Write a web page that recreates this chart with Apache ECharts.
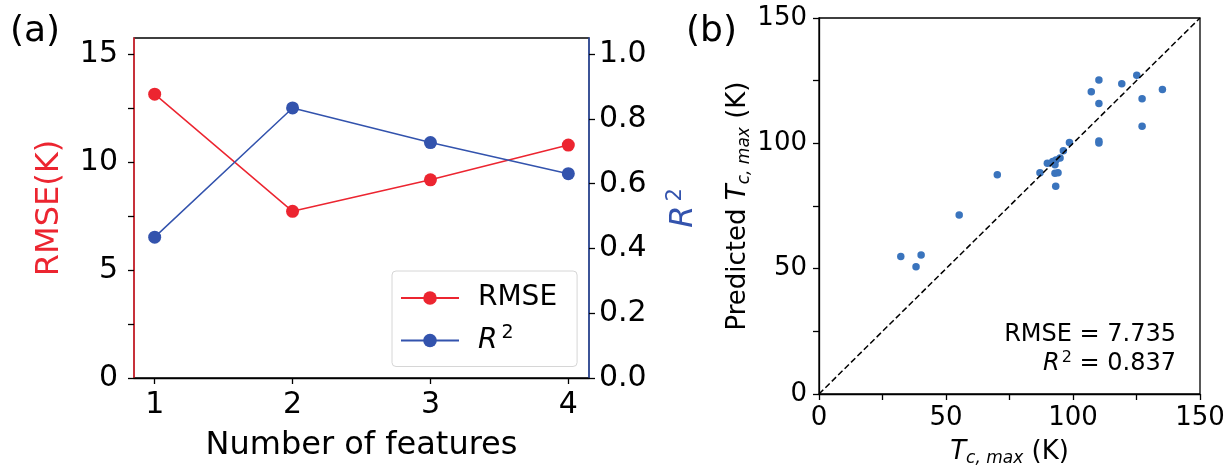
<!DOCTYPE html>
<html>
<head>
<meta charset="utf-8">
<script src="https://cdn.jsdelivr.net/npm/echarts@6/dist/echarts.min.js"></script>
<style>
    html, body { margin: 0; padding: 0; background: #fff; }
    #chart { width: 1232px; height: 472px; }
</style>
</head>
<body>
<div id="chart"></div>
<script>
var features = [1, 2, 3, 4];
var rmseVals = [13.15, 7.72, 9.18, 10.79];
var r2Vals = [0.435, 0.834, 0.727, 0.631];

// panel (b): actual vs predicted Tc,max
var tcTrue = [110.2, 125.1, 119.2, 135.2, 107.2, 127.2, 110.2, 127.2, 110.2, 110.2, 98.6, 96.2,
    89.9, 92.0, 93.3, 94.9, 92.9, 87.0, 92.9, 94.1, 93.2, 70.2, 55.2, 40.2, 32.2, 38.2];
var tcPred = [125.3, 127.2, 123.8, 121.5, 120.6, 117.8, 115.9, 106.8, 100.9, 100.1, 100.3, 97.0,
    92.1, 92.8, 93.4, 94.1, 91.5, 88.3, 88.1, 88.3, 82.9, 87.5, 71.4, 55.5, 54.9, 50.8];

var rmseTicks = [0, 2.5, 5, 7.5, 10, 12.5, 15];
var rmseLabels = [0, 5, 10, 15];
var r2Ticks = [0, 0.2, 0.4, 0.6, 0.8, 1.0];

var RED = "#ec2530",
    BLUE = "#3353ad",
    DOT = "#3a74bd",
    FONT = "DejaVu Sans";

function zip(a, b) {
    var out = [];
    for (var i = 0; i < a.length; i++) {
        out.push([a[i], b[i]]);
    }
    return out;
}

var subRich = {
    i: { fontStyle: "italic", fontFamily: FONT, fontSize: 26, color: "#000" },
    sub: { fontStyle: "italic", fontFamily: FONT, fontSize: 17, color: "#000", padding: [12, 0, 0, 0] },
    n: { fontFamily: FONT, fontSize: 26, color: "#000" }
};

var option = {
    animation: false,
    backgroundColor: "#fff",
    textStyle: { fontFamily: FONT },
    grid: [
        { left: 134, top: 38, width: 455, height: 340, show: true, borderColor: "#000", borderWidth: 1.3, containLabel: false },
        { left: 819, top: 18, width: 381, height: 381, show: true, borderColor: "#000", borderWidth: 1.3, containLabel: false }
    ],
    legend: {
        data: ["RMSE", "R2"],
        orient: "vertical",
        left: 392,
        top: 271,
        padding: [13, 20, 12, 8],
        itemGap: 12,
        itemWidth: 58,
        itemHeight: 17,
        backgroundColor: "#fff",
        borderColor: "#d6d6d6",
        borderWidth: 1,
        borderRadius: 4,
        formatter: function(name) {
            return name === "R2" ? "{i|R}{s|2}" : name;
        },
        textStyle: {
            fontFamily: FONT,
            fontSize: 28,
            color: "#000",
            padding: [0, 0, 0, 14],
            rich: {
                i: { fontStyle: "italic", fontFamily: FONT, fontSize: 28, color: "#000" },
                s: { fontFamily: FONT, fontSize: 19, color: "#000", padding: [0, 0, 14, 4] }
            }
        }
    },
    xAxis: [{
        type: "value",
        gridIndex: 0,
        min: 0.85,
        max: 4.15,
        name: "Number of features",
        nameLocation: "middle",
        nameGap: 52,
        nameTextStyle: { fontSize: 32, color: "#000", fontFamily: FONT },
        axisLine: { onZero: false, lineStyle: { color: "#000", width: 1.3 } },
        axisTick: { show: true, length: 6, customValues: features, lineStyle: { color: "#000", width: 1.3 } },
        axisLabel: { customValues: features, fontSize: 30, color: "#000", margin: 12 },
        splitLine: { show: false }
    }, {
        type: "value",
        gridIndex: 1,
        min: 0,
        max: 150,
        interval: 25,
        name: "{i|T}{sub|c, max}{n| (K)}",
        nameLocation: "middle",
        nameGap: 44,
        nameTextStyle: { rich: subRich },
        axisLine: { onZero: false, lineStyle: { color: "#000", width: 1.3 } },
        axisTick: { length: 6, lineStyle: { color: "#000", width: 1.3 } },
        axisLabel: {
            fontSize: 26,
            color: "#000",
            margin: 11,
            formatter: function(v) { return v % 50 === 0 ? String(v) : ""; }
        },
        splitLine: { show: false }
    }],
    yAxis: [{
        type: "value",
        gridIndex: 0,
        min: 0,
        max: 15.75,
        name: "RMSE(K)",
        nameLocation: "middle",
        nameGap: 68,
        nameTextStyle: { fontSize: 32, color: RED, fontFamily: FONT },
        axisLine: { show: true, onZero: false, lineStyle: { color: RED, width: 1.5 } },
        axisTick: { show: true, length: 6, customValues: rmseTicks, lineStyle: { color: "#000", width: 1.3 } },
        axisLabel: { customValues: rmseLabels, fontSize: 30, color: "#000", margin: 16 },
        splitLine: { show: false }
    }, {
        type: "value",
        gridIndex: 0,
        position: "right",
        min: 0,
        max: 1.05,
        name: "{i|R}{s|2}",
        nameLocation: "middle",
        nameGap: 76,
        nameRotate: 90,
        nameTextStyle: {
            rich: {
                i: { fontStyle: "italic", fontSize: 32, color: BLUE, fontFamily: FONT },
                s: { fontSize: 21, color: BLUE, fontFamily: FONT, padding: [0, 0, 16, 4] }
            }
        },
        axisLine: { show: true, onZero: false, lineStyle: { color: BLUE, width: 1.5 } },
        axisTick: { show: true, length: 6, customValues: r2Ticks, lineStyle: { color: "#000", width: 1.3 } },
        axisLabel: {
            customValues: r2Ticks,
            fontSize: 30,
            color: "#000",
            margin: 10,
            formatter: function(v) { return v.toFixed(1); }
        },
        splitLine: { show: false }
    }, {
        type: "value",
        gridIndex: 1,
        min: 0,
        max: 150,
        interval: 25,
        name: "{n|Predicted }{i|T}{sub|c, max}{n| (K)}",
        nameLocation: "middle",
        nameGap: 66,
        nameTextStyle: { rich: subRich },
        axisLine: { onZero: false, lineStyle: { color: "#000", width: 1.3 } },
        axisTick: { length: 6, lineStyle: { color: "#000", width: 1.3 } },
        axisLabel: {
            fontSize: 26,
            color: "#000",
            margin: 12,
            formatter: function(v) { return v % 50 === 0 ? String(v) : ""; }
        },
        splitLine: { show: false }
    }],
    series: [{
        name: "RMSE",
        type: "line",
        xAxisIndex: 0,
        yAxisIndex: 0,
        data: zip(features, rmseVals),
        symbol: "circle",
        symbolSize: 13,
        itemStyle: { color: RED },
        lineStyle: { color: RED, width: 1.5 }
    }, {
        name: "R2",
        type: "line",
        xAxisIndex: 0,
        yAxisIndex: 1,
        data: zip(features, r2Vals),
        symbol: "circle",
        symbolSize: 13,
        itemStyle: { color: BLUE },
        lineStyle: { color: BLUE, width: 1.5 }
    }, {
        name: "diag",
        type: "line",
        xAxisIndex: 1,
        yAxisIndex: 2,
        data: [[0, 0], [150, 150]],
        symbol: "none",
        lineStyle: { color: "#000", width: 1.5, type: [6, 3] },
        silent: true
    }, {
        name: "tc",
        type: "scatter",
        xAxisIndex: 1,
        yAxisIndex: 2,
        data: zip(tcTrue, tcPred),
        symbolSize: 7.5,
        itemStyle: { color: DOT, opacity: 1 }
    }],
    graphic: [{
        type: "text",
        left: 10,
        top: 14,
        style: { text: "(a)", font: "36px DejaVu Sans", fill: "#000" }
    }, {
        type: "text",
        left: 686,
        top: 14,
        style: { text: "(b)", font: "36px DejaVu Sans", fill: "#000" }
    }, {
        type: "text",
        x: 1176,
        y: 335,
        style: { text: "RMSE = 7.735", font: "24px DejaVu Sans", fill: "#000", align: "right", verticalAlign: "middle" }
    }, {
        type: "text",
        x: 1176,
        y: 364,
        style: {
            text: "{i|R}{s|2}{n| = 0.837}",
            align: "right",
            verticalAlign: "middle",
            rich: {
                i: { fontStyle: "italic", fontFamily: FONT, fontSize: 24, fill: "#000" },
                s: { fontFamily: FONT, fontSize: 16, fill: "#000", padding: [0, 0, 12, 2] },
                n: { fontFamily: FONT, fontSize: 24, fill: "#000" }
            }
        }
    }]
};

var myChart = echarts.init(document.getElementById("chart"));
myChart.setOption(option);
</script>
</body>
</html>
